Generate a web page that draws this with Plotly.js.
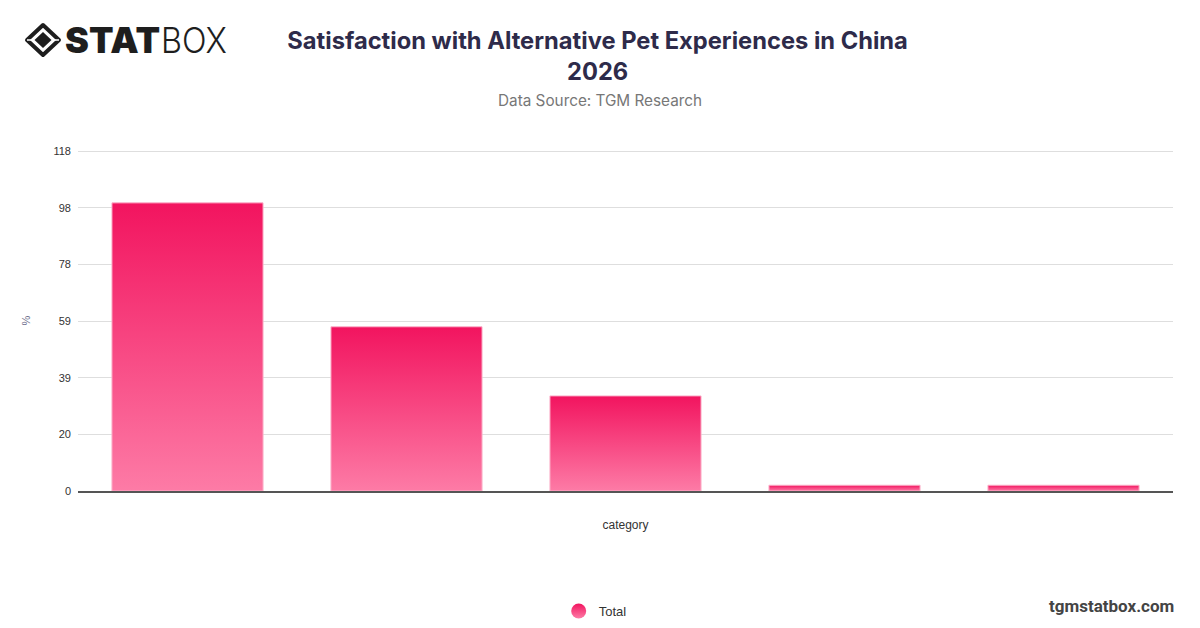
<!DOCTYPE html>
<html>
<head>
<meta charset="utf-8">
<script src="https://cdn.plot.ly/plotly-3.0.1.min.js"></script>
<style>
  html, body { margin:0; padding:0; background:#fff; }
  #wrap { position:relative; width:1200px; height:628px; }
  #chart { position:absolute; left:0; top:0; width:1200px; height:628px; }
  #logo { position:absolute; left:24px; top:20px; width:220px; height:40px; pointer-events:none; }
</style>
</head>
<body>
<div id="wrap">
  <div id="chart"></div>
  <svg id="logo" viewBox="0 0 220 40" xmlns="http://www.w3.org/2000/svg">
    <g transform="translate(19,20)">
      <path d="M0,-15 L16,0 L0,15 L-16,0 Z" fill="none" stroke="#1e1e1e" stroke-width="4" stroke-linejoin="round"/>
      <path d="M0,-8 L8.5,0 L0,8 L-8.5,0 Z" fill="#1e1e1e"/>
      <line x1="-16" y1="0" x2="-10" y2="0" stroke="#fff" stroke-width="1.5"/>
      <line x1="16" y1="0" x2="10" y2="0" stroke="#fff" stroke-width="1.5"/>
    </g>
    <text x="41" y="33" font-family="Inter, 'DejaVu Sans', sans-serif" font-weight="900" font-size="35" fill="#1e1e1e" textLength="95" lengthAdjust="spacingAndGlyphs">STAT</text>
    <text x="137" y="33" font-family="Inter, 'DejaVu Sans', sans-serif" font-weight="300" font-size="35" fill="#1e1e1e" textLength="66" lengthAdjust="spacingAndGlyphs">BOX</text>
  </svg>
</div>
<script>
// ---- data ----
const categories = ["Category A", "Category B", "Category C", "Category D", "Category E"];
const totalValues = [100, 57, 33, 2, 2];
const seriesName = "Total";
const yTickValues = [0, 19.67, 39.33, 59, 78.67, 98.33, 118];
const yTickLabels = ["0", "20", "39", "59", "78", "98", "118"];

const barTrace = {
  type: "bar",
  x: categories,
  y: totalValues,
  name: seriesName,
  showlegend: false,
  marker: { color: "#f4306f", line: { color: "#fbb3cb", width: 1 } },
  hoverinfo: "y"
};
const legendTrace = {
  type: "scatter",
  mode: "markers",
  x: [null],
  y: [null],
  name: seriesName,
  marker: { symbol: "circle", size: 15, color: "#f2145f",
            gradient: { type: "vertical", color: "#fd7ba6" } }
};

const layout = {
  width: 1200,
  height: 628,
  paper_bgcolor: "#ffffff",
  plot_bgcolor: "#ffffff",
  margin: { l: 78, r: 27, t: 150, b: 137 },
  bargap: 0.31,
  title: {
    text: "<b>Satisfaction with Alternative Pet Experiences in China<br>2026</b>",
    font: { family: "Inter, Roboto, sans-serif", size: 23.7, color: "#2e2b4a" },
    x: 0.498, xanchor: "center", xref: "container",
    y: 0.922, yanchor: "top", yref: "container"
  },
  xaxis: {
    showticklabels: false,
    ticks: "",
    showgrid: false,
    showline: true,
    linecolor: "#555555",
    linewidth: 1.5,
    zeroline: false,
    title: { text: "category", font: { family: "Liberation Sans, Arial, sans-serif", size: 12, color: "#333333" }, standoff: 29 }
  },
  yaxis: {
    range: [0, 118.35],
    tickvals: yTickValues,
    ticktext: yTickLabels,
    tickfont: { family: "Liberation Sans, Arial, sans-serif", size: 11, color: "#333333" },
    ticks: "",
    ticklen: 0,
    ticklabelstandoff: 6,
    showgrid: true,
    gridcolor: "#dedede",
    gridwidth: 1,
    zeroline: false,
    showline: false,
    title: { text: "%", font: { family: "Liberation Sans, Arial, sans-serif", size: 11, color: "#6b6b8a" }, standoff: 20 }
  },
  legend: {
    orientation: "h",
    xref: "container", x: 0.496, xanchor: "center",
    yref: "container", y: 0.027, yanchor: "middle",
    font: { family: "Liberation Sans, Arial, sans-serif", size: 13, color: "#333333" }
  },
  annotations: [
    {
      text: "Data Source: TGM Research",
      xref: "paper", yref: "paper",
      x: (600 - 78) / 1095, y: (491 - 101) / 341, xanchor: "center", yanchor: "middle",
      showarrow: false,
      font: { family: "Inter, Roboto, sans-serif", size: 15.3, color: "#777777" }
    },
    {
      text: "<b>tgmstatbox.com</b>",
      xref: "paper", yref: "paper",
      x: (1176 - 78) / 1095, y: (491 - 606) / 341, xanchor: "right", yanchor: "middle",
      showarrow: false,
      font: { family: "Roboto, Liberation Sans, sans-serif", size: 17, color: "#444444" }
    }
  ]
};

function applyGradient() {
  const svg = document.querySelector("#chart .main-svg");
  if (!svg) return;
  const ns = "http://www.w3.org/2000/svg";
  let defs = svg.querySelector("defs");
  if (!defs) { defs = document.createElementNS(ns, "defs"); svg.insertBefore(defs, svg.firstChild); }
  if (!svg.querySelector("#barGrad")) {
    const g = document.createElementNS(ns, "linearGradient");
    g.setAttribute("id", "barGrad");
    g.setAttribute("x1", "0"); g.setAttribute("y1", "0");
    g.setAttribute("x2", "0"); g.setAttribute("y2", "1");
    const s1 = document.createElementNS(ns, "stop");
    s1.setAttribute("offset", "0"); s1.setAttribute("stop-color", "#f2145f");
    const s2 = document.createElementNS(ns, "stop");
    s2.setAttribute("offset", "1"); s2.setAttribute("stop-color", "#fd7ba6");
    g.appendChild(s1); g.appendChild(s2);
    defs.appendChild(g);
  }
  document.querySelectorAll("#chart .trace.bars .point path").forEach(p => {
    p.style.fill = "url(#barGrad)";
  });
}

Plotly.newPlot("chart", [barTrace, legendTrace], layout, { displayModeBar: false, staticPlot: true })
  .then(applyGradient);
</script>
</body>
</html>
